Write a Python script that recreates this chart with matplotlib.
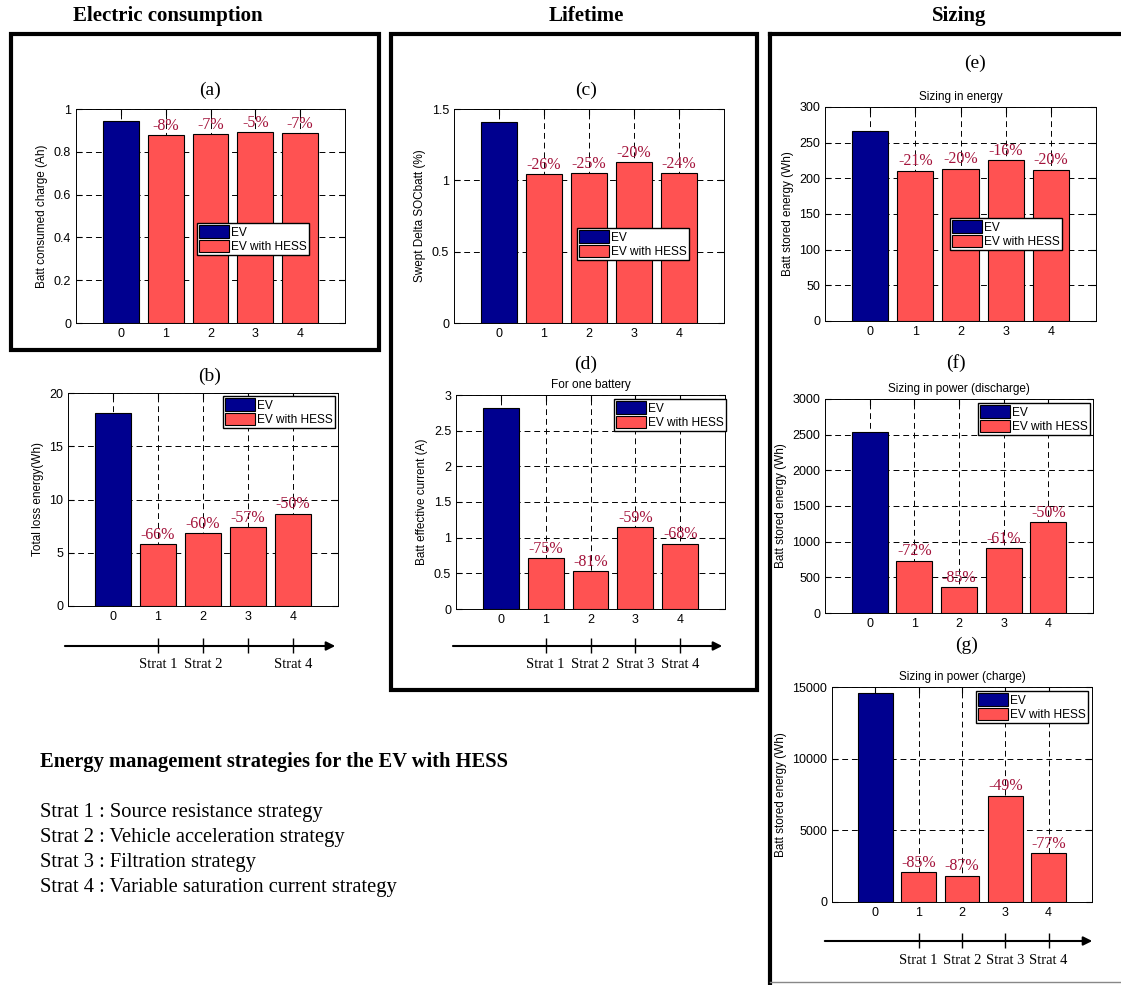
import matplotlib.pyplot as plt
from matplotlib.patches import Rectangle
from matplotlib.lines import Line2D
from matplotlib.ticker import FuncFormatter

# values
ev_charge = 0.945
hess_charge = [0.878, 0.882, 0.891, 0.888]
pct_charge = ['-8%', '-7%', '-5%', '-7%']

ev_loss = 18.1
hess_loss = [5.82, 6.83, 7.39, 8.67]
pct_loss = ['-66%', '-60%', '-57%', '-50%']

ev_soc = 1.411
hess_soc = [1.044, 1.051, 1.126, 1.051]
pct_soc = ['-26%', '-25%', '-20%', '-24%']

ev_current = 2.822
hess_current = [0.71, 0.533, 1.15, 0.915]
pct_current = ['-75%', '-81%', '-59%', '-68%']

ev_energy = 266
hess_energy = [210.7, 213.5, 225.3, 212.1]
pct_energy = ['-21%', '-20%', '-16%', '-20%']

ev_discharge = 2533
hess_discharge = [733, 364, 907, 1276]
pct_discharge = ['-72%', '-85%', '-61%', '-50%']

ev_charge_pw = 14560
hess_charge_pw = [2072, 1835, 7416, 3398]
pct_charge_pw = ['-85%', '-87%', '-49%', '-77%']

strat_lines = ['Strat 1 : Source resistance strategy',
               'Strat 2 : Vehicle acceleration strategy',
               'Strat 3 : Filtration strategy',
               'Strat 4 : Variable saturation current strategy']

W, H = 1121, 985
EV_COL = '#00008F'
HESS_COL = '#FF5252'
PCT_COL = '#A3123A'
SANS = 'Liberation Sans'
SERIF = 'Liberation Serif'

fig = plt.figure(figsize=(W / 100, H / 100), dpi=100)


def px_axes(x0, y0, x1, y1):
    return fig.add_axes([x0 / W, 1 - y1 / H, (x1 - x0) / W, (y1 - y0) / H])


def fig_text(x, y, s, **kw):
    fig.text(x / W, 1 - y / H, s, **kw)


def bar_panel(box, ev, hess, pcts, yticks, ylabel, leg_xy, title=None):
    ax = px_axes(*box)
    ax.set_axisbelow(True)
    ax.bar([0], [ev], width=0.8, color=EV_COL, edgecolor='black', lw=0.8, label='EV')
    ax.bar([1, 2, 3, 4], hess, width=0.8, color=HESS_COL, edgecolor='black', lw=0.8,
           label='EV with HESS')
    for i, (v, p) in enumerate(zip(hess, pcts)):
        ax.annotate(p, (i + 1, v), xytext=(0, 1), textcoords='offset points',
                    ha='center', va='bottom', color=PCT_COL, fontsize=11.5, family=SERIF)
    ax.set_xlim(-1, 5)
    ax.set_ylim(yticks[0], yticks[-1])
    ax.set_xticks([0, 1, 2, 3, 4])
    ax.set_yticks(yticks)
    ax.yaxis.set_major_formatter(FuncFormatter(lambda v, _: f'{v:g}'))
    ax.grid(True, color='black', linestyle=(0, (6, 4)), lw=0.7)
    ax.tick_params(direction='in', top=True, right=True, length=4, labelsize=9)
    for t in ax.get_xticklabels() + ax.get_yticklabels():
        t.set_family(SANS)
    ax.set_ylabel(ylabel, family=SANS, fontsize=8.5, labelpad=4)
    for sp in ax.spines.values():
        sp.set_linewidth(0.7)
    if title:
        ax.set_title(title, family=SANS, fontsize=8.5, pad=5)
    ax.legend(loc='upper left', bbox_to_anchor=(leg_xy[0] / W, 1 - leg_xy[1] / H),
              bbox_transform=fig.transFigure, borderaxespad=0, fancybox=False,
              framealpha=1, edgecolor='black', prop={'family': SANS, 'size': 8.6},
              handlelength=2.45, handleheight=1.2, handletextpad=0.2,
              labelspacing=0.1, borderpad=0.2)
    return ax


def strat_arrow(box, xs, labels, x_start, x_end):
    ax = px_axes(*box)
    ax.set_xlim(-1, 5)
    ax.set_ylim(45, 0)
    ax.axis('off')
    ax.annotate('', xy=(x_end, 16), xytext=(x_start, 16),
                arrowprops=dict(arrowstyle='-|>', color='black', lw=1.5, mutation_scale=13),
                annotation_clip=False)
    ax.vlines([1, 2, 3, 4], 8, 23, color='black', lw=1)
    for x, s in zip(xs, labels):
        ax.text(x, 35, s, ha='center', va='center', family=SERIF, fontsize=10.5)


# panels
bar_panel((76, 109, 345, 323), ev_charge, hess_charge, pct_charge,
          [0, 0.2, 0.4, 0.6, 0.8, 1], 'Batt consumed charge (Ah)', (197, 223))
bar_panel((68, 393, 338, 606), ev_loss, hess_loss, pct_loss,
          [0, 5, 10, 15, 20], 'Total loss energy(Wh)', (223, 396))
bar_panel((454, 109, 724, 323), ev_soc, hess_soc, pct_soc,
          [0, 0.5, 1, 1.5], 'Swept Delta SOCbatt (%)', (577, 228))
bar_panel((456, 395, 725, 609), ev_current, hess_current, pct_current,
          [0, 0.5, 1, 1.5, 2, 2.5, 3], 'Batt effective current (A)', (614, 399),
          title='For one battery')
bar_panel((825, 107, 1096, 321), ev_energy, hess_energy, pct_energy,
          [0, 50, 100, 150, 200, 250, 300], 'Batt stored energy (Wh)', (950, 218),
          title='Sizing in energy')
bar_panel((825, 399, 1093, 613), ev_discharge, hess_discharge, pct_discharge,
          [0, 500, 1000, 1500, 2000, 2500, 3000], 'Batt stored energy (Wh)', (978, 403),
          title='Sizing in power (discharge)')
bar_panel((832, 687, 1092, 902), ev_charge_pw, hess_charge_pw, pct_charge_pw,
          [0, 5000, 10000, 15000], 'Batt stored energy (Wh)', (976, 691),
          title='Sizing in power (charge)')

# strategy arrows
strat_arrow((68, 630, 338, 675), [1, 2, 4], ['Strat 1', 'Strat 2', 'Strat 4'], -1.13, 5.0)
strat_arrow((456, 630, 725, 675), [1, 2, 3, 4],
            ['Strat 1', 'Strat 2', 'Strat 3', 'Strat 4'], -1.13, 5.0)
strat_arrow((832, 925, 1092, 970), [1, 2, 3, 4],
            ['Strat 1', 'Strat 2', 'Strat 3', 'Strat 4'], -1.23, 5.07)

# panel letters
for x, y, s in [(210, 90, '(a)'), (210, 376, '(b)'), (586, 90, '(c)'), (586, 364, '(d)'),
                (975, 63, '(e)'), (956, 363, '(f)'), (967, 645, '(g)')]:
    fig_text(x, y, s, ha='center', va='center', family=SERIF, fontsize=14)

# group headers
fig_text(168, 16, 'Electric consumption', ha='center', va='center', family=SERIF,
         fontsize=15, weight='bold')
fig_text(586, 16, 'Lifetime', ha='center', va='center', family=SERIF,
         fontsize=15, weight='bold')
fig_text(959, 16, 'Sizing', ha='center', va='center', family=SERIF,
         fontsize=15, weight='bold')

# frames
fig.add_artist(Rectangle((10.5 / W, 1 - 350 / H), 368.5 / W, 316 / H, fill=False,
                         lw=3, edgecolor='black', transform=fig.transFigure))
fig.add_artist(Rectangle((390.5 / W, 1 - 689.5 / H), 366.5 / W, 655.5 / H, fill=False,
                         lw=3, edgecolor='black', transform=fig.transFigure))
fig.add_artist(Line2D([770 / W, 770 / W], [0, 1 - 34 / H], lw=3, color='black',
                      transform=fig.transFigure))
fig.add_artist(Line2D([770 / W, 1], [1 - 34 / H, 1 - 34 / H], lw=3, color='black',
                      transform=fig.transFigure))
fig.add_artist(Line2D([770 / W, 1], [1 - 982 / H, 1 - 982 / H], lw=1, color='#888888',
                      transform=fig.transFigure))

# strategy legend text
fig_text(40, 762, 'Energy management strategies for the EV with HESS', ha='left',
         va='center', family=SERIF, fontsize=14.8, weight='bold')
for i, s in enumerate(strat_lines):
    fig_text(40, 813 + i * 24.7, s, ha='left', va='center', family=SERIF, fontsize=14.8)

fig.savefig('out.png', dpi=100)
